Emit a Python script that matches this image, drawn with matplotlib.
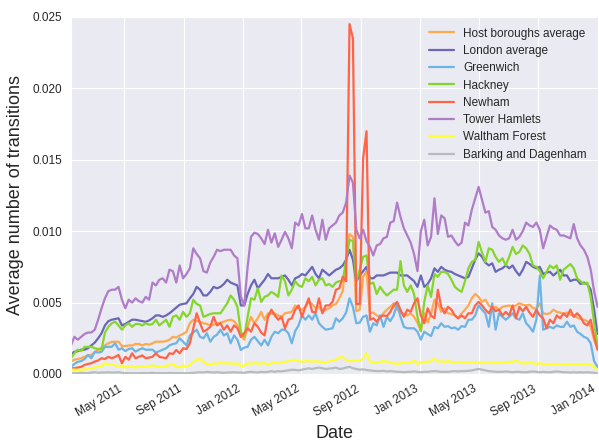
import numpy as np
import pandas as pd
import matplotlib
matplotlib.use("Agg")
import matplotlib.pyplot as plt
import matplotlib.dates as mdates
from matplotlib.ticker import FormatStrFormatter
import seaborn as sns

# weekly dates
dates = pd.date_range("2011-01-12", periods=156, freq="7D")

# values in thousandths (x 1e-3)
host_boroughs = [
    0.87, 1.0, 1.05, 1.1, 1.2, 1.3, 1.35, 1.5, 1.7, 1.85,
    2.0, 2.15, 2.25, 2.26, 2.26, 1.95, 1.95, 2.0, 2.0, 2.1,
    2.1, 2.0, 2.1, 2.05, 2.15, 2.26, 2.26, 2.26, 2.3, 2.4,
    2.6, 2.55, 2.7, 2.8, 2.96, 3.55, 3.8, 3.7, 3.66, 3.55,
    3.5, 3.4, 3.45, 3.55, 3.6, 3.66, 3.75, 3.8, 3.7, 3.4,
    2.7, 2.4, 3.3, 4.0, 3.55, 3.9, 4.35, 3.8, 4.25, 4.2,
    4.25, 4.1, 4.0, 4.25, 4.3, 4.35, 4.8, 4.6, 4.5, 4.7,
    5.05, 4.9, 4.6, 4.7, 4.35, 4.5, 4.6, 4.8, 4.9, 5.3,
    5.8, 8.0, 9.8, 9.6, 4.4, 4.5, 6.8, 7.2, 4.3, 4.3,
    4.1, 4.0, 4.25, 4.5, 4.7, 4.95, 4.5, 4.3, 4.2, 4.1,
    4.25, 4.0, 3.6, 3.0, 4.25, 3.6, 4.2, 5.2, 4.95, 4.35,
    4.6, 4.25, 4.2, 4.1, 3.9, 4.25, 4.5, 4.8, 5.3, 5.6,
    5.4, 5.05, 5.2, 4.8, 4.6, 4.7, 4.5, 4.7, 4.75, 4.8,
    4.7, 4.8, 4.95, 4.85, 4.8, 4.85, 4.6, 4.6, 4.95, 4.25,
    4.2, 4.25, 4.5, 4.35, 4.3, 4.2, 4.3, 4.15, 4.1, 3.95,
    3.85, 3.8, 3.7, 3.3, 2.4, 1.8]

london = [
    1.4, 1.55, 1.6, 1.7, 1.7, 1.8, 2.0, 2.2, 2.5, 2.85,
    3.4, 3.7, 3.8, 3.85, 3.9, 3.4, 3.5, 3.65, 3.8, 3.8,
    3.75, 3.7, 3.65, 3.75, 3.9, 4.1, 4.1, 4.0, 4.1, 4.25,
    4.45, 4.65, 4.85, 4.9, 4.95, 5.3, 5.6, 6.1, 5.9, 5.5,
    5.5, 5.75, 6.1, 6.0, 6.1, 6.3, 6.6, 6.4, 6.3, 6.2,
    4.8, 4.8, 5.6, 6.2, 6.6, 6.0, 6.3, 6.6, 7.0, 6.7,
    6.7, 6.7, 6.8, 6.9, 6.6, 6.2, 6.7, 6.8, 7.0, 6.9,
    7.2, 7.5, 7.0, 6.7, 7.3, 7.1, 6.9, 7.1, 7.3, 7.4,
    7.6, 8.0, 8.7, 8.0, 6.5, 6.9, 7.2, 7.5, 6.7, 6.7,
    6.9, 6.9, 6.9, 7.0, 7.1, 7.1, 7.1, 6.9, 6.9, 6.9,
    6.7, 6.5, 6.1, 6.9, 6.1, 6.3, 6.7, 7.4, 7.15, 7.5,
    7.3, 7.2, 7.15, 7.0, 6.9, 6.8, 6.7, 6.8, 7.4, 8.0,
    8.45, 8.2, 7.8, 7.6, 7.75, 7.15, 7.3, 7.4, 7.6, 7.4,
    7.6, 7.2, 6.9, 7.3, 7.85, 7.7, 7.5, 7.4, 7.5, 7.0,
    7.1, 7.15, 6.9, 7.1, 7.3, 6.9, 6.9, 6.5, 6.6, 6.6,
    6.3, 6.4, 6.3, 5.9, 4.5, 2.8]

greenwich = [
    0.5, 0.7, 0.85, 0.9, 1.05, 1.33, 1.1, 1.56, 1.5, 1.55,
    1.9, 1.9, 1.9, 2.15, 1.7, 1.8, 1.6, 1.75, 1.8, 1.56,
    1.7, 1.8, 1.7, 1.7, 1.7, 1.5, 1.6, 1.7, 1.8, 2.0,
    2.1, 2.15, 2.5, 2.26, 2.0, 2.7, 2.9, 3.1, 2.6, 2.5,
    2.85, 2.26, 2.6, 2.75, 3.1, 2.7, 2.85, 2.15, 2.7, 2.4,
    1.68, 1.85, 1.9, 2.4, 2.6, 2.3, 2.0, 2.4, 2.0, 2.6,
    2.96, 2.85, 3.1, 3.1, 2.85, 2.15, 3.0, 3.4, 4.1, 3.8,
    4.1, 3.8, 4.25, 3.55, 3.3, 3.1, 3.15, 3.2, 3.9, 3.66,
    3.9, 4.3, 5.3, 4.7, 3.55, 3.6, 4.0, 4.1, 2.96, 3.55,
    3.4, 4.1, 3.3, 4.0, 3.7, 4.1, 4.95, 4.0, 3.3, 3.2,
    3.2, 3.2, 2.96, 2.4, 2.96, 2.8, 2.65, 3.3, 3.2, 3.55,
    3.3, 3.35, 3.2, 3.25, 3.1, 3.35, 3.3, 3.8, 3.8, 4.1,
    4.8, 4.5, 4.25, 3.3, 4.95, 3.1, 4.25, 4.0, 3.8, 4.0,
    4.25, 3.9, 3.8, 4.25, 3.55, 3.3, 2.96, 3.8, 6.9, 3.1,
    3.2, 3.3, 3.2, 3.4, 3.3, 3.3, 3.66, 3.3, 3.4, 2.96,
    2.8, 2.6, 2.5, 2.15, 0.9, 0.5]

hackney = [
    1.1, 1.45, 1.7, 1.6, 1.9, 1.9, 1.9, 1.8, 1.75, 1.7,
    2.9, 3.3, 3.55, 3.66, 3.4, 3.1, 3.4, 3.55, 3.3, 3.5,
    3.5, 3.4, 3.55, 3.45, 3.5, 3.8, 3.4, 3.6, 3.8, 3.3,
    4.0, 4.1, 3.8, 4.35, 4.0, 4.25, 5.2, 4.9, 4.8, 4.0,
    4.1, 4.2, 4.25, 4.25, 4.25, 4.6, 4.95, 5.5, 5.2, 4.7,
    2.96, 2.6, 4.0, 5.3, 5.2, 6.0, 5.05, 5.4, 5.5, 5.75,
    5.6, 5.4, 6.9, 6.5, 5.5, 5.9, 6.5, 6.2, 6.1, 6.7,
    6.5, 6.8, 6.2, 6.6, 6.7, 6.2, 6.3, 6.1, 6.4, 6.5,
    6.5, 8.0, 9.4, 9.3, 6.5, 7.3, 8.2, 8.3, 6.3, 6.4,
    5.6, 6.1, 5.75, 5.5, 5.7, 5.9, 5.9, 7.9, 6.2, 5.75,
    6.2, 5.6, 4.0, 3.0, 5.05, 6.2, 5.4, 7.0, 6.8, 7.15,
    7.15, 7.0, 6.6, 6.1, 5.9, 5.75, 6.5, 7.4, 7.85, 8.0,
    9.25, 8.5, 7.85, 8.8, 8.7, 8.2, 7.85, 8.1, 7.6, 8.2,
    8.9, 8.4, 8.55, 9.0, 8.8, 8.4, 7.6, 7.5, 7.2, 6.7,
    7.15, 7.6, 7.4, 7.6, 6.6, 7.3, 7.5, 7.7, 7.4, 6.7,
    6.5, 6.3, 6.4, 5.4, 3.6, 2.0]

newham = [
    0.4, 0.4, 0.45, 0.5, 0.63, 0.7, 0.75, 0.87, 0.95, 1.1,
    1.05, 1.2, 1.1, 1.2, 1.33, 0.75, 1.2, 1.0, 1.45, 1.1,
    1.2, 1.3, 1.1, 1.15, 1.2, 1.45, 1.2, 1.15, 1.1, 1.45,
    1.4, 1.68, 1.45, 1.8, 1.75, 2.15, 3.2, 4.25, 3.55, 2.96,
    3.1, 3.3, 4.0, 3.4, 3.55, 3.1, 3.4, 2.96, 3.4, 3.2,
    2.6, 2.85, 3.2, 2.96, 3.55, 3.3, 2.9, 2.7, 4.0, 4.5,
    4.1, 3.8, 4.0, 3.2, 3.8, 3.9, 4.5, 4.8, 4.0, 4.7,
    5.3, 4.35, 4.3, 5.3, 4.25, 4.8, 4.8, 5.05, 5.9, 6.0,
    6.8, 6.5, 24.5, 23.5, 4.9, 4.9, 15.1, 17.0, 3.8, 3.9,
    3.66, 4.0, 4.1, 4.05, 4.35, 4.8, 5.05, 4.5, 4.0, 4.5,
    4.35, 4.95, 5.3, 4.1, 3.55, 4.6, 4.1, 3.9, 5.9, 4.7,
    4.25, 4.7, 4.5, 4.1, 3.9, 4.1, 3.9, 4.25, 4.25, 4.8,
    5.05, 4.8, 4.5, 4.25, 4.7, 4.4, 4.5, 4.1, 4.35, 4.1,
    4.8, 3.9, 4.7, 4.4, 4.7, 4.3, 4.0, 4.5, 4.1, 3.9,
    3.2, 3.8, 3.55, 4.1, 3.9, 4.25, 4.0, 4.5, 4.0, 4.25,
    4.0, 3.55, 3.4, 3.8, 2.6, 1.7]

tower_hamlets = [
    2.0, 2.6, 2.4, 2.6, 2.8, 2.9, 2.9, 3.1, 3.8, 4.6,
    5.3, 5.8, 5.9, 5.9, 6.1, 5.2, 4.6, 5.2, 5.0, 5.3,
    5.1, 5.0, 5.4, 5.2, 6.4, 6.2, 6.6, 6.7, 6.4, 7.3,
    7.2, 6.4, 7.6, 6.7, 7.0, 7.4, 8.8, 8.4, 8.1, 7.2,
    7.1, 7.8, 8.2, 8.7, 8.6, 8.7, 8.7, 8.7, 8.3, 8.1,
    5.4, 4.8, 7.5, 9.6, 9.9, 9.8, 9.5, 9.1, 10.1, 9.2,
    9.85, 8.9, 9.4, 9.95, 9.5, 8.8, 10.6, 10.4, 11.2, 10.2,
    10.2, 11.1, 10.1, 9.4, 10.8, 9.4, 10.2, 10.4, 10.6, 11.1,
    11.3, 12.0, 13.9, 13.4, 10.1, 9.5, 10.1, 9.3, 8.9, 8.3,
    9.0, 9.1, 9.5, 9.6, 10.6, 10.7, 12.0, 11.0, 10.2, 9.7,
    9.2, 8.4, 7.2, 10.0, 10.8, 9.0, 9.6, 12.3, 9.8, 11.1,
    10.9, 9.6, 9.7, 9.3, 9.0, 9.2, 10.6, 10.4, 11.5, 12.3,
    13.1, 12.2, 11.3, 11.4, 10.3, 10.1, 9.7, 9.5, 9.4, 9.5,
    10.1, 9.4, 9.6, 10.0, 10.6, 10.4, 10.3, 10.6, 10.1, 8.8,
    9.6, 10.4, 10.2, 10.1, 9.7, 9.7, 9.6, 9.5, 10.5, 9.5,
    9.0, 8.7, 8.2, 7.3, 5.8, 4.7]

waltham_forest = [
    0.3, 0.3, 0.28, 0.3, 0.32, 0.35, 0.4, 0.45, 0.5, 0.55,
    0.75, 0.65, 0.7, 0.6, 0.55, 0.6, 0.45, 0.5, 0.5, 0.45,
    0.5, 0.55, 0.5, 0.55, 0.6, 0.55, 0.5, 0.5, 0.55, 0.65,
    0.7, 0.5, 0.45, 0.6, 0.5, 0.65, 0.85, 1.0, 1.05, 0.85,
    0.7, 0.65, 0.75, 0.7, 0.8, 0.75, 0.75, 0.75, 0.7, 0.75,
    0.55, 0.6, 0.75, 0.7, 0.8, 0.7, 0.75, 0.75, 0.65, 0.75,
    0.8, 0.75, 0.8, 0.85, 0.9, 0.95, 1.0, 0.9, 0.85, 0.9,
    0.9, 0.85, 0.9, 0.85, 0.85, 0.8, 0.9, 0.95, 1.0, 1.15,
    1.2, 0.95, 0.9, 0.9, 0.95, 0.9, 1.1, 1.45, 0.9, 0.75,
    0.8, 0.85, 0.9, 0.85, 0.8, 0.75, 0.7, 0.75, 0.8, 0.75,
    0.8, 0.95, 0.7, 0.8, 0.85, 0.85, 0.9, 1.1, 0.85, 0.9,
    0.85, 0.9, 0.85, 0.8, 0.85, 0.8, 0.8, 0.8, 0.85, 0.8,
    0.8, 0.75, 0.8, 0.8, 0.75, 0.8, 0.75, 0.8, 0.8, 0.85,
    0.85, 0.95, 0.8, 0.75, 0.75, 0.8, 0.75, 0.7, 0.75, 0.7,
    0.7, 0.65, 0.7, 0.7, 0.65, 0.65, 0.7, 0.7, 0.65, 0.7,
    0.65, 0.7, 0.7, 0.65, 0.5, 0.3]

barking = [
    0.05, 0.05, 0.05, 0.08, 0.06, 0.05, 0.1, 0.12, 0.08, 0.1,
    0.1, 0.12, 0.1, 0.1, 0.12, 0.08, 0.06, 0.05, 0.05, 0.05,
    0.05, 0.06, 0.05, 0.06, 0.08, 0.05, 0.05, 0.06, 0.05, 0.07,
    0.06, 0.05, 0.06, 0.05, 0.05, 0.06, 0.08, 0.1, 0.12, 0.1,
    0.15, 0.12, 0.1, 0.12, 0.1, 0.08, 0.1, 0.1, 0.12, 0.1,
    0.1, 0.08, 0.12, 0.15, 0.12, 0.1, 0.15, 0.12, 0.15, 0.2,
    0.15, 0.2, 0.18, 0.22, 0.25, 0.3, 0.28, 0.25, 0.3, 0.35,
    0.4, 0.35, 0.4, 0.45, 0.4, 0.35, 0.38, 0.4, 0.45, 0.35,
    0.38, 0.45, 0.5, 0.4, 0.35, 0.3, 0.32, 0.28, 0.25, 0.22,
    0.2, 0.2, 0.22, 0.18, 0.2, 0.18, 0.15, 0.15, 0.12, 0.15,
    0.15, 0.18, 0.15, 0.12, 0.15, 0.15, 0.18, 0.2, 0.18, 0.15,
    0.15, 0.15, 0.18, 0.2, 0.18, 0.2, 0.2, 0.22, 0.25, 0.3,
    0.35, 0.3, 0.25, 0.2, 0.18, 0.15, 0.15, 0.15, 0.18, 0.15,
    0.12, 0.15, 0.15, 0.12, 0.12, 0.15, 0.18, 0.15, 0.12, 0.15,
    0.12, 0.12, 0.15, 0.18, 0.15, 0.12, 0.12, 0.1, 0.12, 0.1,
    0.12, 0.1, 0.12, 0.1, 0.08, 0.05]

names = ["Host boroughs average", "London average", "Greenwich", "Hackney",
         "Newham", "Tower Hamlets", "Waltham Forest", "Barking and Dagenham"]
series = [host_boroughs, london, greenwich, hackney,
          newham, tower_hamlets, waltham_forest, barking]
colors = ["#ffa94f", "#6a67b8", "#6cb4e4", "#84d62a",
          "#ff6447", "#b07cc8", "#ffff33", "#b4bcbe"]

sns.set_style("darkgrid")
plt.rcParams["font.family"] = ["Liberation Sans", "DejaVu Sans"]

fig = plt.figure(figsize=(5.99, 4.41), dpi=100)
ax = fig.add_axes([0.1185, 0.152, 0.879, 0.8095])

for name, vals, c in zip(names, series, colors):
    ax.plot(dates, np.array(vals) / 1000.0, color=c, lw=1.6, label=name)

ax.set_xlim(dates[0], dates[-1])
ax.set_ylim(0, 0.025)
ax.set_yticks(np.arange(0, 0.0251, 0.005))
ax.yaxis.set_major_formatter(FormatStrFormatter("%.3f"))
ax.xaxis.set_major_locator(mdates.MonthLocator(bymonth=[1, 5, 9]))
ax.xaxis.set_major_formatter(mdates.DateFormatter("%b %Y"))
for lab in ax.get_xticklabels():
    lab.set_rotation(30)
    lab.set_ha("right")
ax.tick_params(axis="both", labelsize=8.5, colors="#262626", pad=3)

ax.set_xlabel("Date", fontsize=13, color="#262626")
ax.set_ylabel("Average number of transitions", fontsize=13, color="#262626",
              labelpad=6)

ax.legend(loc="upper right", frameon=False, fontsize=8.5, labelspacing=0.45,
          handlelength=2.1, borderaxespad=0.5)

fig.savefig("out.png", dpi=100)
